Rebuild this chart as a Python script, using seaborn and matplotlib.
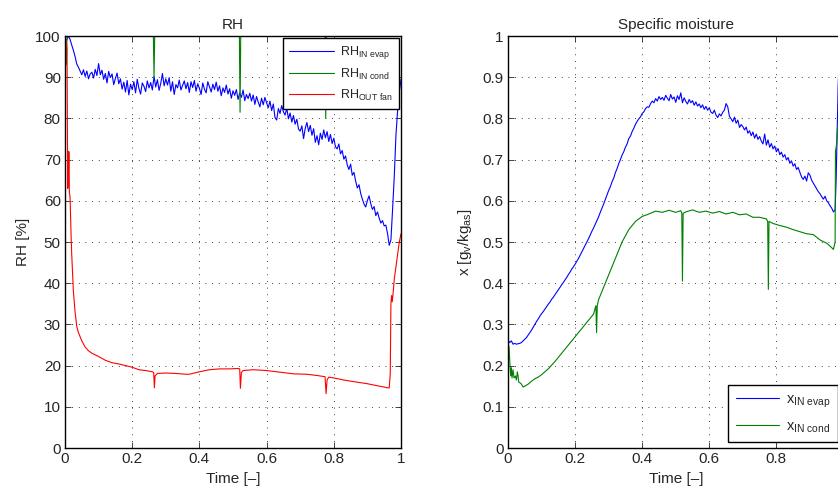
import seaborn as sns
import pandas as pd
import numpy as np
import matplotlib
matplotlib.use("Agg")
import matplotlib.pyplot as plt

# ---- data ----
# RH IN evap (blue), sampled every 0.005 from 0.005 to 0.965, then the end rise
t_rh_evap = [round(0.005 * i, 3) for i in range(1, 194)] + [0.97, 0.975, 0.98, 0.985, 0.99, 0.995, 1.0]
rh_evap = [
    99.0, 100.0, 99.2, 97.8, 96.5, 95.0, 93.2, 92.4, 91.5, 90.6,
    91.8, 90.2, 91.5, 89.6, 90.8, 91.2, 89.8, 91.9, 90.4, 93.3,
    90.6, 91.7, 89.5, 90.9, 88.6, 91.4, 89.9, 90.8, 88.2, 89.7,
    91.0, 88.4, 89.6, 87.1, 88.8, 86.4, 89.2, 85.7, 88.3, 87.0,
    88.9, 86.2, 89.5, 87.3, 85.9, 88.6, 87.8, 86.5, 89.1, 87.4,
    88.7, 86.9, 90.2, 87.6, 89.4, 86.8, 88.5, 90.9, 87.9, 89.6,
    88.1, 89.9, 86.6, 88.9, 85.8, 88.2, 87.4, 89.3, 86.9, 88.0,
    89.1, 87.2, 88.7, 86.3, 88.9, 87.5, 89.2, 86.6, 88.4, 87.3,
    85.8, 88.6, 87.1, 86.2, 88.9, 87.7, 86.4, 88.3, 87.0, 88.8,
    86.6, 87.9, 85.5, 87.4, 86.3, 88.1, 85.9, 87.2, 84.9, 86.7,
    85.6, 87.0, 84.6, 86.2, 85.1, 86.9, 84.3, 85.8, 84.8, 86.1,
    84.2, 85.7, 83.4, 85.3, 84.0, 82.8, 84.9, 83.3, 85.1, 83.8,
    82.6, 84.2, 81.9, 83.5, 80.2, 79.6, 82.4, 81.2, 83.1, 81.6,
    80.8, 82.5, 79.9, 81.3, 79.1, 80.7, 78.6, 79.8, 77.4, 76.9,
    78.2, 75.1, 77.6, 79.0, 76.8, 78.3, 75.9, 77.5, 74.2, 75.8,
    73.6, 76.4, 74.9, 77.2, 75.3, 76.8, 74.4, 76.1, 73.9, 75.2,
    73.1, 72.6, 73.8, 71.4, 72.2, 70.1, 70.9, 68.7, 67.6, 68.9,
    66.2, 66.9, 64.8, 63.1, 63.9, 61.8, 60.4, 59.2, 58.5, 60.1,
    61.2, 59.3, 57.9, 58.6, 56.4, 57.3, 55.8, 54.6, 55.2, 53.9,
    54.1, 52.0, 49.2,
    50.5, 58.0, 66.0, 76.0, 82.0, 86.5, 89.5,
]

# RH IN cond (green) - saturated at 100 with three short dips
t_rh_cond = [0.0, 0.004, 0.006, 0.263, 0.265, 0.267, 0.519, 0.521, 0.523, 0.774, 0.776, 0.778, 1.0]
rh_cond = [100, 93, 100, 100, 90, 100, 100, 81.5, 100, 100, 80, 100, 100]

# RH OUT fan (red)
t_rh_fan = [0.003, 0.006, 0.008, 0.010, 0.011, 0.012, 0.013, 0.015, 0.018, 0.02, 0.025, 0.03,
            0.035, 0.04, 0.05, 0.06, 0.07, 0.08, 0.09, 0.1, 0.12, 0.14, 0.16, 0.18, 0.2, 0.22,
            0.24, 0.26, 0.264, 0.266, 0.268, 0.275, 0.3, 0.33, 0.36, 0.37, 0.4, 0.43, 0.46,
            0.49, 0.515, 0.52, 0.522, 0.525, 0.53, 0.56, 0.6, 0.64, 0.68, 0.72, 0.75, 0.774,
            0.777, 0.78, 0.785, 0.8, 0.83, 0.86, 0.9, 0.93, 0.95, 0.96, 0.965, 0.968, 0.97,
            0.972, 0.974, 0.977, 0.98, 0.985, 0.99, 0.995, 1.0]
rh_fan = [99, 97, 63, 64, 72, 71.5, 62, 61, 52, 47, 38, 33,
          29.5, 28, 26, 24.5, 23.6, 23, 22.6, 22.2, 21.3, 20.7, 20.4, 20.0, 19.6, 19.0,
          18.8, 18.5, 18.3, 14.6, 17.5, 18.1, 18.2, 18.1, 17.9, 17.9, 18.5, 19.0, 19.2,
          19.2, 19.3, 19.2, 14.5, 18.3, 18.8, 19.0, 18.8, 18.4, 18.0, 17.9, 17.6, 17.3,
          13.2, 16.5, 17.2, 17.0, 16.5, 16.1, 15.6, 15.1, 14.8, 14.6, 14.6, 18, 35,
          37, 35.5, 38, 41, 44, 47, 50, 52]

# x IN evap (blue), every 0.005 from 0 to 0.975, then the end rise
t_x_evap = [round(0.005 * i, 3) for i in range(0, 196)] + [0.978, 0.98, 0.982, 0.984, 0.986]
x_evap = [
    0.262, 0.256, 0.260, 0.252, 0.254, 0.252, 0.253, 0.254, 0.256, 0.260,
    0.264, 0.268, 0.274, 0.280, 0.286, 0.293, 0.300, 0.307, 0.313, 0.320,
    0.326, 0.331, 0.337, 0.343, 0.349, 0.354, 0.361, 0.366, 0.372, 0.378,
    0.384, 0.390, 0.396, 0.402, 0.408, 0.414, 0.421, 0.427, 0.434, 0.440,
    0.446, 0.453, 0.460, 0.468, 0.476, 0.484, 0.492, 0.500, 0.508, 0.517,
    0.526, 0.534, 0.543, 0.552, 0.561, 0.572, 0.582, 0.592, 0.603, 0.614,
    0.625, 0.634, 0.646, 0.655, 0.668, 0.678, 0.690, 0.700, 0.711, 0.719,
    0.730, 0.738, 0.751, 0.757, 0.768, 0.776, 0.786, 0.793, 0.799, 0.804,
    0.812, 0.816, 0.824, 0.828, 0.827, 0.836, 0.842, 0.838, 0.848, 0.842,
    0.853, 0.846, 0.851, 0.844, 0.856, 0.849, 0.843, 0.858, 0.847, 0.852,
    0.839, 0.855, 0.846, 0.862, 0.838, 0.850, 0.841, 0.835, 0.846, 0.838,
    0.843, 0.832, 0.840, 0.830, 0.835, 0.826, 0.833, 0.822, 0.829, 0.820,
    0.826, 0.815, 0.812, 0.820, 0.808, 0.802, 0.811, 0.806, 0.815, 0.820,
    0.836, 0.828, 0.805, 0.799, 0.792, 0.803, 0.788, 0.796, 0.778, 0.785,
    0.780, 0.772, 0.779, 0.764, 0.770, 0.758, 0.767, 0.752, 0.762, 0.749,
    0.756, 0.745, 0.738, 0.762, 0.735, 0.748, 0.730, 0.739, 0.726, 0.733,
    0.719, 0.727, 0.712, 0.718, 0.706, 0.712, 0.699, 0.705, 0.691, 0.697,
    0.684, 0.690, 0.676, 0.681, 0.669, 0.658, 0.652, 0.660, 0.648, 0.668,
    0.662, 0.650, 0.643, 0.636, 0.629, 0.622, 0.617, 0.610, 0.604, 0.611,
    0.600, 0.595, 0.588, 0.582, 0.573, 0.578,
    0.65, 0.72, 0.80, 0.88, 0.92,
]

# x IN cond (green)
t_x_cond = [0.0, 0.003, 0.006, 0.008, 0.010, 0.012, 0.015, 0.018, 0.022, 0.025, 0.028, 0.030,
            0.032, 0.036, 0.040, 0.045, 0.05, 0.06, 0.07, 0.08, 0.09, 0.10, 0.12, 0.14, 0.16,
            0.18, 0.20, 0.22, 0.24, 0.255, 0.26, 0.262, 0.264, 0.266, 0.27, 0.28, 0.30, 0.32,
            0.34, 0.36, 0.38, 0.40, 0.42, 0.44, 0.46, 0.48, 0.50, 0.515, 0.518, 0.520, 0.522,
            0.53, 0.55, 0.57, 0.59, 0.61, 0.63, 0.65, 0.67, 0.69, 0.71, 0.73, 0.75, 0.77,
            0.774, 0.776, 0.778, 0.79, 0.81, 0.83, 0.85, 0.87, 0.89, 0.91, 0.93, 0.95, 0.96,
            0.97, 0.975, 0.976, 0.978, 0.98, 0.982, 0.986]
x_cond = [0.255, 0.245, 0.20, 0.175, 0.195, 0.17, 0.19, 0.17, 0.175, 0.165, 0.185, 0.175,
          0.16, 0.158, 0.155, 0.148, 0.15, 0.155, 0.162, 0.168, 0.172, 0.178, 0.192, 0.21, 0.23,
          0.25, 0.27, 0.29, 0.31, 0.325, 0.34, 0.345, 0.28, 0.345, 0.36, 0.38, 0.42, 0.46,
          0.50, 0.53, 0.55, 0.562, 0.568, 0.575, 0.572, 0.577, 0.572, 0.576, 0.57, 0.405, 0.57,
          0.573, 0.578, 0.572, 0.575, 0.57, 0.574, 0.568, 0.572, 0.566, 0.568, 0.56, 0.56, 0.556,
          0.55, 0.385, 0.55, 0.545, 0.54, 0.536, 0.53, 0.525, 0.52, 0.518, 0.505, 0.497, 0.49,
          0.482, 0.50, 0.72, 0.73, 0.74, 0.78, 0.78]

x_ticks = [0, 0.2, 0.4, 0.6, 0.8, 1]
x_tick_labels = ["0", "0.2", "0.4", "0.6", "0.8", "1"]
# the right panel runs off the image, so its "1" label is not seen
x_tick_labels_right = ["0", "0.2", "0.4", "0.6", "0.8", ""]
rh_ticks = [0, 10, 20, 30, 40, 50, 60, 70, 80, 90, 100]
x_hum_ticks = [0, 0.1, 0.2, 0.3, 0.4, 0.5, 0.6, 0.7, 0.8, 0.9, 1]
x_hum_labels = ["0", "0.1", "0.2", "0.3", "0.4", "0.5", "0.6", "0.7", "0.8", "0.9", "1"]

# ---- style ----
sns.set_style("ticks")
plt.rcParams["font.family"] = ["Liberation Sans", "DejaVu Sans"]
plt.rcParams["mathtext.fontset"] = "custom"
plt.rcParams["mathtext.rm"] = "Liberation Sans"
plt.rcParams["mathtext.it"] = "Liberation Sans"
plt.rcParams["xtick.direction"] = "in"
plt.rcParams["ytick.direction"] = "in"
plt.rcParams["xtick.top"] = True
plt.rcParams["ytick.right"] = True

BLUE = (0, 0, 1)
GREEN = (0, 0.5, 0)
RED = (1, 0, 0)
LW = 0.8
FS = 11

fig = plt.figure(figsize=(8.38, 4.87), dpi=100)
ax1 = fig.add_axes([65 / 838, 39 / 487, 336 / 838, 412 / 487])
ax2 = fig.add_axes([508 / 838, 39 / 487, 335.5 / 838, 412 / 487])

# left: RH
sns.lineplot(x=t_rh_evap, y=rh_evap, ax=ax1, color=BLUE, lw=LW, sort=False,
             estimator=None, label=r"RH$_{\mathrm{IN\ evap}}$")
sns.lineplot(x=t_rh_cond, y=rh_cond, ax=ax1, color=GREEN, lw=LW, sort=False,
             estimator=None, label=r"RH$_{\mathrm{IN\ cond}}$")
sns.lineplot(x=t_rh_fan, y=rh_fan, ax=ax1, color=RED, lw=LW, sort=False,
             estimator=None, label=r"RH$_{\mathrm{OUT\ fan}}$")
ax1.set_xlim(0, 1)
ax1.set_ylim(0, 100)
ax1.set_yticks(rh_ticks)
ax1.set_xticks(x_ticks)
ax1.set_xticklabels(x_tick_labels)
ax1.set_title("RH", fontsize=FS, pad=5)
ax1.set_ylabel("RH [%]", fontsize=FS, labelpad=4)

# right: specific moisture
sns.lineplot(x=t_x_evap, y=x_evap, ax=ax2, color=BLUE, lw=LW, sort=False,
             estimator=None, label=r"x$_{\mathrm{IN\ evap}}$")
sns.lineplot(x=t_x_cond, y=x_cond, ax=ax2, color=GREEN, lw=LW, sort=False,
             estimator=None, label=r"x$_{\mathrm{IN\ cond}}$")
ax2.set_xlim(0, 1)
ax2.set_ylim(0, 1)
ax2.set_yticks(x_hum_ticks)
ax2.set_yticklabels(x_hum_labels)
ax2.set_xticks(x_ticks)
ax2.set_xticklabels(x_tick_labels_right)
ax2.set_title("Specific moisture", fontsize=FS, pad=5)
ax2.set_ylabel(r"x [g$_{\mathrm{v}}$/kg$_{\mathrm{as}}$]", fontsize=FS, labelpad=6)

for ax in (ax1, ax2):
    ax.set_xlabel("Time [\u2013]", fontsize=FS, labelpad=4)
    ax.tick_params(labelsize=FS, length=4, width=0.6, pad=3)
    ax.grid(True, linestyle=(0, (1, 7)), color="black", linewidth=0.6)
    for s in ax.spines.values():
        s.set_linewidth(1.0)
        s.set_color("black")

leg1 = ax1.legend(loc="upper right", fontsize=9, handlelength=3.6, handletextpad=0.5,
                  borderaxespad=0.15, frameon=True, fancybox=False, edgecolor="black",
                  labelspacing=0.45, borderpad=0.5)
leg2 = ax2.legend(loc="lower right", fontsize=10.5, handlelength=3.0, handletextpad=0.45,
                  borderaxespad=0.4, frameon=True, fancybox=False, edgecolor="black",
                  labelspacing=0.65, borderpad=0.5)
for leg in (leg1, leg2):
    leg.get_frame().set_linewidth(1.0)
    leg.get_frame().set_alpha(1)

fig.savefig("out.png", dpi=100)
